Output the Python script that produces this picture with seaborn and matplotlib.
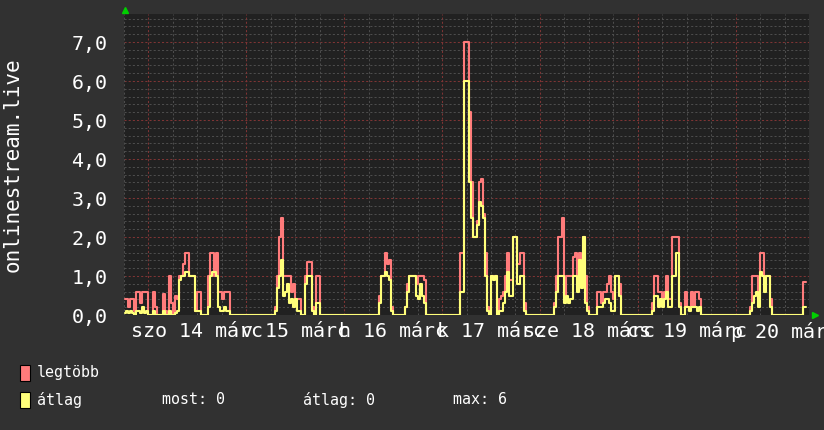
import numpy as np
import matplotlib
matplotlib.use('Agg')
import matplotlib.pyplot as plt
import matplotlib.transforms as mtransforms
from matplotlib.patches import Rectangle
import seaborn as sns

# félórás minták, 7 nap (márc 13 18:00 -> márc 20 18:00)
nan = float('nan')
legtobb = [
    0.4, 0.4, 0.2, 0.4, 0.4, 0.1, 0.6, 0.6, 0.3, 0.6, 0.6, 0.6, 0, 0, 0.6, 0.2, 0, 0, 0, 0.55, 0.1, 0, 1.0, 0.3,
    0, 0.5, 0.4, 1.0, 1.0, 1.3, 1.6, 1.6, 1.0, 1.0, 1.0, 0.1, 0.6, 0.6, 0, 0, 0, 1.0, 1.6, 1.6, 1.0, 1.6, 0.6, 0.6,
    0.4, 0.6, 0.6, 0.6, 0, 0, 0, 0, 0, 0, 0, 0, 0, 0, 0, 0, 0, 0, 0, 0, 0, 0, 0, 0,
    0, 0, 0.2, 1.0, 2.0, 2.5, 1.0, 1.0, 1.0, 1.0, 0.6, 0.8, 0.4, 0.4, 0.4, 0, 0, 1.0, 1.35, 1.35, 0.2, 0, 1.0, 1.0,
    0, 0, 0, 0, 0, 0, 0, 0, 0, 0, 0, 0, 0, 0, 0, 0, 0, 0, 0, 0, 0, 0, 0, 0,
    0, 0, 0, 0, 0, 0.5, 1.0, 1.0, 1.6, 1.3, 1.4, 0.2, 0, 0, 0, 0, 0, 0, 0.2, 0.8, 1.0, 1.0, 1.0, 0.8,
    1.0, 1.0, 1.0, 0.9, 0, 0, 0, 0, 0, 0, 0, 0, 0, 0, 0, 0, 0, 0, 0, 0, 0, 1.6, 1.6, 7.0,
    7.0, 5.2, 3.4, 2.0, 2.0, 2.4, 3.4, 3.5, 2.6, 1.6, 0.2, 0, 1.0, 1.0, 1.0, 0, 0.4, 0.5, 0.6, 1.0, 1.6, 0.9, 0.9, 2.0,
    2.0, 1.3, 1.6, 1.6, 0.3, 0, 0, 0, 0, 0, 0, 0, 0, 0, 0, 0, 0, 0, 0, 0.3, 1.0, 2.0, 2.0, 2.5,
    0.5, 1.0, 1.0, 1.0, 1.5, 1.6, 1.0, 1.6, 1.0, 2.0, 1.0, 0.2, 0, 0, 0, 0, 0.6, 0.6, 0.3, 0.6, 0.6, 0.8, 1.0, 0.6,
    0.4, 1.0, 1.0, 0.8, 0, 0, 0, 0, 0, 0, 0, 0, 0, 0, 0, 0, 0, 0, 0, 0.3, 1.0, 1.0, 0.6, 0.6,
    0.4, 0.6, 1.0, 0.4, 0.4, 2.0, 2.0, 2.0, 0.3, 0, 0, 0.6, 0.2, 0.2, 0.6, 0.2, 0.6, 0.6, 0.4, 0, 0, 0, 0, 0,
    0, 0, 0, 0, 0, 0, 0, 0, 0, 0, 0, 0, 0, 0, 0, 0, 0, 0, 0, 0.2, 1.0, 1.0, 1.0, 0.4,
    1.6, 1.6, 1.0, 1.0, 1.0, 0.4, 0, 0, 0, 0, 0, 0, 0, 0, 0, 0, 0, 0, 0, 0, 0, 0.85, 0.85, nan,
]
atlag = [
    0.05, 0.1, 0.05, 0.1, 0.05, 0, 0.1, 0.1, 0.05, 0.2, 0.05, 0.1, 0, 0, 0.1, 0, 0, 0, 0, 0.1, 0, 0, 0.1, 0,
    0, 0.05, 0.1, 0.9, 1.0, 1.0, 1.1, 1.1, 1.0, 1.0, 1.0, 0.1, 0.1, 0.1, 0, 0, 0, 0.2, 1.0, 1.1, 1.1, 1.0, 0.2, 0.1,
    0.1, 0.2, 0.1, 0.1, 0, 0, 0, 0, 0, 0, 0, 0, 0, 0, 0, 0, 0, 0, 0, 0, 0, 0, 0, 0,
    0, 0, 0.1, 0.7, 1.0, 1.4, 0.5, 0.6, 0.8, 0.3, 0.4, 0.2, 0.4, 0.1, 0.1, 0, 0, 0.8, 1.0, 1.0, 0.1, 0, 0.3, 0.3,
    0, 0, 0, 0, 0, 0, 0, 0, 0, 0, 0, 0, 0, 0, 0, 0, 0, 0, 0, 0, 0, 0, 0, 0,
    0, 0, 0, 0, 0, 0.3, 1.0, 1.0, 1.1, 1.0, 0.9, 0.1, 0, 0, 0, 0, 0, 0, 0.2, 0.6, 1.0, 1.0, 1.0, 0.5,
    0.4, 0.8, 0.5, 0.3, 0, 0, 0, 0, 0, 0, 0, 0, 0, 0, 0, 0, 0, 0, 0, 0, 0, 0.6, 0.6, 6.0,
    6.0, 3.4, 2.5, 2.0, 2.0, 2.3, 2.9, 2.8, 2.5, 1.0, 0.1, 0, 1.0, 0.9, 1.0, 0, 0.1, 0.1, 0.3, 0.6, 1.1, 0.5, 0.5, 2.0,
    2.0, 0.8, 1.0, 1.0, 0.1, 0, 0, 0, 0, 0, 0, 0, 0, 0, 0, 0, 0, 0, 0, 0.2, 0.6, 1.0, 1.0, 1.0,
    0.3, 0.5, 0.3, 0.4, 1.0, 1.0, 0.6, 1.4, 0.7, 2.0, 0.3, 0.1, 0, 0, 0, 0, 0.2, 0.2, 0.2, 0.3, 0.4, 0.4, 0.3, 0.1,
    0.1, 1.0, 1.0, 0.5, 0, 0, 0, 0, 0, 0, 0, 0, 0, 0, 0, 0, 0, 0, 0, 0.1, 0.5, 0.5, 0.2, 0.4,
    0.2, 0.4, 0.6, 0.2, 0.2, 1.0, 1.0, 1.6, 0.2, 0, 0, 0.2, 0.2, 0.1, 0.2, 0.2, 0.2, 0.1, 0.2, 0, 0, 0, 0, 0,
    0, 0, 0, 0, 0, 0, 0, 0, 0, 0, 0, 0, 0, 0, 0, 0, 0, 0, 0, 0.1, 0.3, 0.5, 0.6, 0.2,
    1.1, 1.0, 0.6, 1.0, 1.0, 0.2, 0, 0, 0, 0, 0, 0, 0, 0, 0, 0, 0, 0, 0, 0, 0, 0.2, 0.2, nan,
]
nap_cimkek = ['szo 14 márc', 'v 15 márc', 'h 16 márc', 'k 17 márc',
              'sze 18 márc', 'cs 19 márc', 'p 20 márc']
y_ertekek = [0, 1, 2, 3, 4, 5, 6, 7]
y_cimkek = ['0,0', '1,0', '2,0', '3,0', '4,0', '5,0', '6,0', '7,0']
sor_nevek = ['legtöbb', 'átlag']
statisztika = ['most: 0', 'átlag: 0', 'max: 6']

BG = '#313131'
PLOT_BG = '#212121'
RED = '#ff7b7b'
YELLOW = '#ffff7a'
TXT = '#ffffff'
GRID = '#4c4c4c'
MGRID = '#7e3434'
W, H = 824, 430

sns.set_theme(style='dark', rc={'axes.facecolor': PLOT_BG, 'figure.facecolor': BG})
plt.rcParams['font.family'] = ['DejaVu Sans Mono']

fig = plt.figure(figsize=(W / 100, H / 100), dpi=100, facecolor=BG)
ax = fig.add_axes([124 / W, 115 / H, 685 / W, 301 / H])
ax.set_facecolor(PLOT_BG)

n = len(legtobb)

# rács: 0,2-es és 6 órás pontozott vonalak, egész értékek és éjfelek pirosan
for v in np.arange(0.2, 7.7, 0.2):
    major = abs(v - round(v)) < 1e-6
    ax.axhline(v, color=MGRID if major else GRID, lw=0.75, ls=(0, (2, 2)), zorder=0)
for s in range(0, n, 12):
    major = (s - 12) % 48 == 0
    ax.axvline(s, color=MGRID if major else GRID, lw=0.75, ls=(0, (2, 2)), zorder=0)

sns.lineplot(x=np.arange(n) + 0.5, y=legtobb, ax=ax, color=RED, linewidth=1.5,
             drawstyle='steps-mid', estimator=None, zorder=3)
sns.lineplot(x=np.arange(len(atlag)) + 0.5, y=atlag, ax=ax, color=YELLOW,
             linewidth=1.5, drawstyle='steps-mid', estimator=None, zorder=4)

ax.set_xlim(0, n)
ax.set_ylim(0, 7.72)
for sp in ax.spines.values():
    sp.set_visible(False)

ax.set_xticks([36 + 48 * i for i in range(len(nap_cimkek))], nap_cimkek)
ax.set_yticks(y_ertekek, y_cimkek)
ax.tick_params(axis='x', length=0, pad=5, labelsize=14.4, colors=TXT)
ax.tick_params(axis='y', length=0, pad=12, labelsize=14.4, colors=TXT)
ax.grid(False)
ax.set_xlabel('')
ax.set_ylabel('onlinestream.live', fontsize=15, color=TXT)
ax.yaxis.set_label_coords(-0.148, 0.5)

# zöld nyilak a tengelyek végén
up = mtransforms.offset_copy(ax.transAxes, fig=fig, x=1, y=4, units='dots')
ax.plot([0], [1], marker='^', color='#00d000', markersize=5, transform=up, clip_on=False)
right = mtransforms.offset_copy(ax.transAxes, fig=fig, x=6, y=0, units='dots')
ax.plot([1], [0], marker='>', color='#00d000', markersize=5, transform=right, clip_on=False)

# jelmagyarázat
for i, (nev, col) in enumerate(zip(sor_nevek, [RED, YELLOW])):
    yc = 373 + 27 * i
    fig.patches.append(Rectangle((20 / W, 1 - (yc + 8) / H), 10 / W, 16 / H,
                                 transform=fig.transFigure, facecolor=col,
                                 edgecolor='black', lw=0.8))
    fig.text(37 / W, 1 - yc / H, nev, color=TXT, fontsize=10.8, va='center')
for txt, xp in zip(statisztika, [162, 303, 453]):
    fig.text(xp / W, 1 - 400 / H, txt, color=TXT, fontsize=10.8, va='center')

fig.savefig('out.png', dpi=100, facecolor=BG)
